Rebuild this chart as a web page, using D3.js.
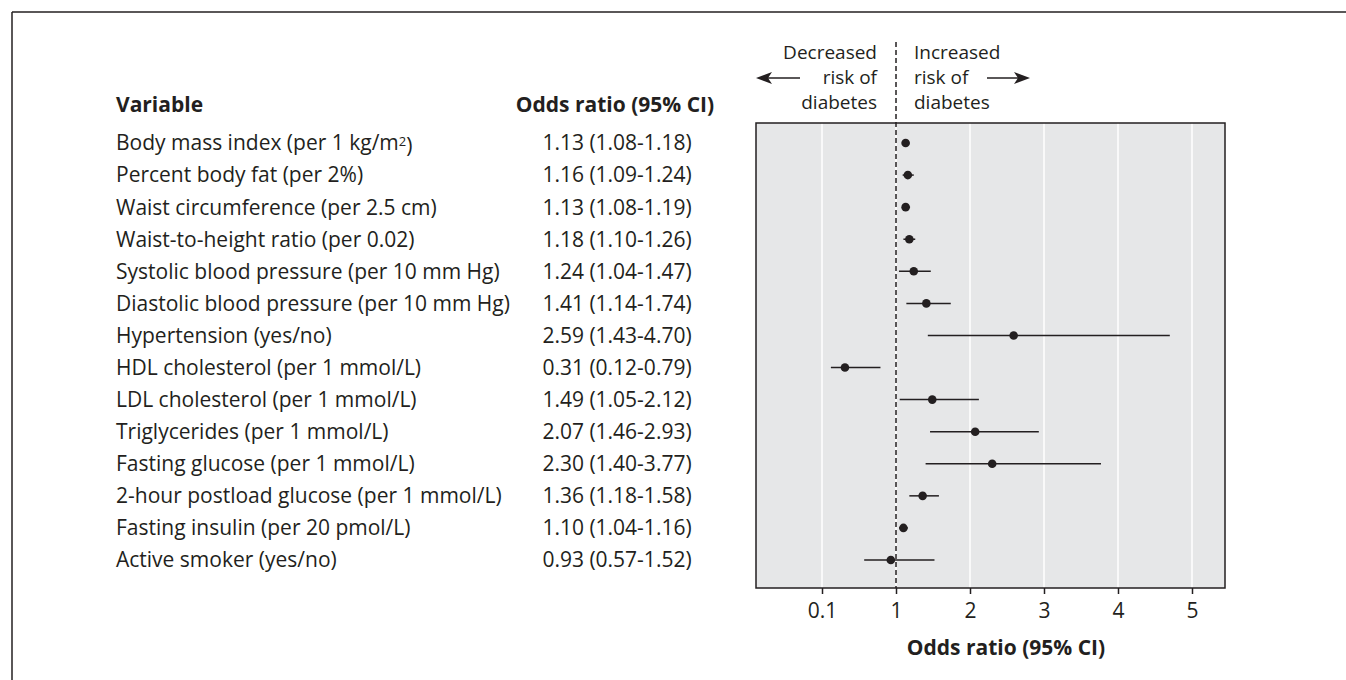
<!DOCTYPE html>
<html>
<head>
<meta charset="utf-8">
<script src="https://cdn.jsdelivr.net/npm/d3@7"></script>
<style>
  body { margin: 0; background: #fff; }
  svg { display: block; }
  text { font-family: "Open Sans", "Noto Sans", sans-serif; fill: #231f20; }
</style>
</head>
<body>
<div id="chart"></div>
<script>
var variables = [
	"Body mass index (per 1 kg/m|2|)",
	"Percent body fat (per 2%)",
	"Waist circumference (per 2.5 cm)",
	"Waist-to-height ratio (per 0.02)",
	"Systolic blood pressure (per 10 mm Hg)",
	"Diastolic blood pressure (per 10 mm Hg)",
	"Hypertension (yes/no)",
	"HDL cholesterol (per 1 mmol/L)",
	"LDL cholesterol (per 1 mmol/L)",
	"Triglycerides (per 1 mmol/L)",
	"Fasting glucose (per 1 mmol/L)",
	"2-hour postload glucose (per 1 mmol/L)",
	"Fasting insulin (per 20 pmol/L)",
	"Active smoker (yes/no)"
];
var oddsRatio = [1.13, 1.16, 1.13, 1.18, 1.24, 1.41, 2.59, 0.31, 1.49, 2.07, 2.30, 1.36, 1.10, 0.93];
var ciLower   = [1.08, 1.09, 1.08, 1.10, 1.04, 1.14, 1.43, 0.12, 1.05, 1.46, 1.40, 1.18, 1.04, 0.57];
var ciUpper   = [1.18, 1.24, 1.19, 1.26, 1.47, 1.74, 4.70, 0.79, 2.12, 2.93, 3.77, 1.58, 1.16, 1.52];
var tickValues = [0, 1, 2, 3, 4, 5];
var tickLabels = ["0.1", "1", "2", "3", "4", "5"];

var width = 1346, height = 680;
var fs = 21;      // table and axis text
var fsAnn = 19;   // direction annotation
var ink = "#231f20";

var svg = d3.select("#chart").append("svg")
	.attr("width", width)
	.attr("height", height);

// frame lines (top and left)
svg.append("line").attr("x1", 12).attr("y1", 12).attr("x2", width).attr("y2", 12)
	.attr("stroke", ink).attr("stroke-width", 1.5);
svg.append("line").attr("x1", 12).attr("y1", 12).attr("x2", 12).attr("y2", height)
	.attr("stroke", ink).attr("stroke-width", 1.5);

var panel = { left: 756, right: 1225, top: 123, bottom: 588 };

var x = d3.scaleLinear().domain([-0.892, 5.446]).range([panel.left, panel.right]);
var y = d3.scalePoint().domain(d3.range(variables.length)).range([143, 560]);

// table text
var table = svg.append("g");
table.append("text")
	.attr("x", 116).attr("y", 105).attr("dy", "0.35em")
	.style("font-size", fs + "px").style("font-weight", "bold")
	.text("Variable");
table.append("text")
	.attr("x", 615).attr("y", 105).attr("dy", "0.35em")
	.attr("text-anchor", "middle")
	.style("font-size", fs + "px").style("font-weight", "bold")
	.text("Odds ratio (95% CI)");

variables.forEach(function(v, i) {
	var t = table.append("text")
		.attr("x", 116).attr("y", y(i)).attr("dy", "0.35em")
		.style("font-size", fs + "px");
	var parts = v.split("|");
	t.append("tspan").text(parts[0]);
	if (parts.length > 1) {
		t.append("tspan").attr("dy", "-0.35em").style("font-size", "13px").text(parts[1]);
		t.append("tspan").attr("dy", "0.35em").text(parts[2]);
	}
	table.append("text")
		.attr("x", 617).attr("y", y(i)).attr("dy", "0.35em")
		.attr("text-anchor", "middle")
		.style("font-size", fs + "px")
		.text(oddsRatio[i].toFixed(2) + " (" + ciLower[i].toFixed(2) + "-" + ciUpper[i].toFixed(2) + ")");
});

// panel background
svg.append("rect")
	.attr("x", panel.left).attr("y", panel.top)
	.attr("width", panel.right - panel.left).attr("height", panel.bottom - panel.top)
	.attr("fill", "#e6e7e8");

// grid lines
svg.append("g").selectAll("line").data(tickValues).join("line")
	.attr("x1", function(d) { return x(d); })
	.attr("x2", function(d) { return x(d); })
	.attr("y1", panel.top).attr("y2", panel.bottom)
	.attr("stroke", "#fff").attr("stroke-width", 1.5);

// axis
var axis = svg.append("g")
	.attr("transform", "translate(0," + panel.bottom + ")")
	.call(d3.axisBottom(x).tickValues(tickValues).tickSize(6).tickPadding(9)
		.tickFormat(function(d, i) { return tickLabels[i]; }));
axis.select(".domain").remove();
axis.selectAll(".tick line").attr("stroke", ink).attr("stroke-width", 1.5);
axis.selectAll(".tick text")
	.style("font-family", "'Open Sans', 'Noto Sans', sans-serif")
	.style("font-size", fs + "px").attr("fill", ink);

svg.append("text")
	.attr("x", 1006).attr("y", 648).attr("dy", "0.35em")
	.attr("text-anchor", "middle")
	.style("font-size", fs + "px").style("font-weight", "bold")
	.text("Odds ratio (95% CI)");

// reference line at OR = 1
svg.append("line")
	.attr("x1", x(1)).attr("x2", x(1))
	.attr("y1", 42).attr("y2", panel.bottom)
	.attr("stroke", ink).attr("stroke-width", 1.5)
	.attr("stroke-dasharray", "5,3");

// confidence intervals and points
var marks = svg.append("g");
marks.selectAll("line").data(variables).join("line")
	.attr("x1", function(d, i) { return x(ciLower[i]); })
	.attr("x2", function(d, i) { return x(ciUpper[i]); })
	.attr("y1", function(d, i) { return y(i); })
	.attr("y2", function(d, i) { return y(i); })
	.attr("stroke", ink).attr("stroke-width", 1.5);
marks.selectAll("circle").data(variables).join("circle")
	.attr("cx", function(d, i) { return x(oddsRatio[i]); })
	.attr("cy", function(d, i) { return y(i); })
	.attr("r", 4.3)
	.attr("fill", ink);

// panel border
svg.append("rect")
	.attr("x", panel.left).attr("y", panel.top)
	.attr("width", panel.right - panel.left).attr("height", panel.bottom - panel.top)
	.attr("fill", "none").attr("stroke", ink).attr("stroke-width", 1.5);

// direction annotation
var lines = ["risk of", "diabetes"];
var ann = svg.append("g").style("font-size", fsAnn + "px");
ann.append("text").attr("x", 877).attr("y", 52).attr("dy", "0.35em").attr("text-anchor", "end").text("Decreased");
ann.append("text").attr("x", 914).attr("y", 52).attr("dy", "0.35em").text("Increased");
lines.forEach(function(l, i) {
	ann.append("text").attr("x", 877).attr("y", 77 + i * 25).attr("dy", "0.35em").attr("text-anchor", "end").text(l);
	ann.append("text").attr("x", 914).attr("y", 77 + i * 25).attr("dy", "0.35em").text(l);
});

function arrow(x1, x2, yy) {
	var dir = x2 > x1 ? 1 : -1;
	ann.append("line").attr("x1", x1).attr("x2", x2 - dir * 8).attr("y1", yy).attr("y2", yy)
		.attr("stroke", ink).attr("stroke-width", 1.5);
	ann.append("path")
		.attr("d", "M" + x2 + "," + yy + "L" + (x2 - dir * 16) + "," + (yy - 6) +
			"L" + (x2 - dir * 12) + "," + yy + "L" + (x2 - dir * 16) + "," + (yy + 6) + "Z")
		.attr("fill", ink);
}
arrow(800, 756, 78);
arrow(987, 1030, 78);
</script>
</body>
</html>
